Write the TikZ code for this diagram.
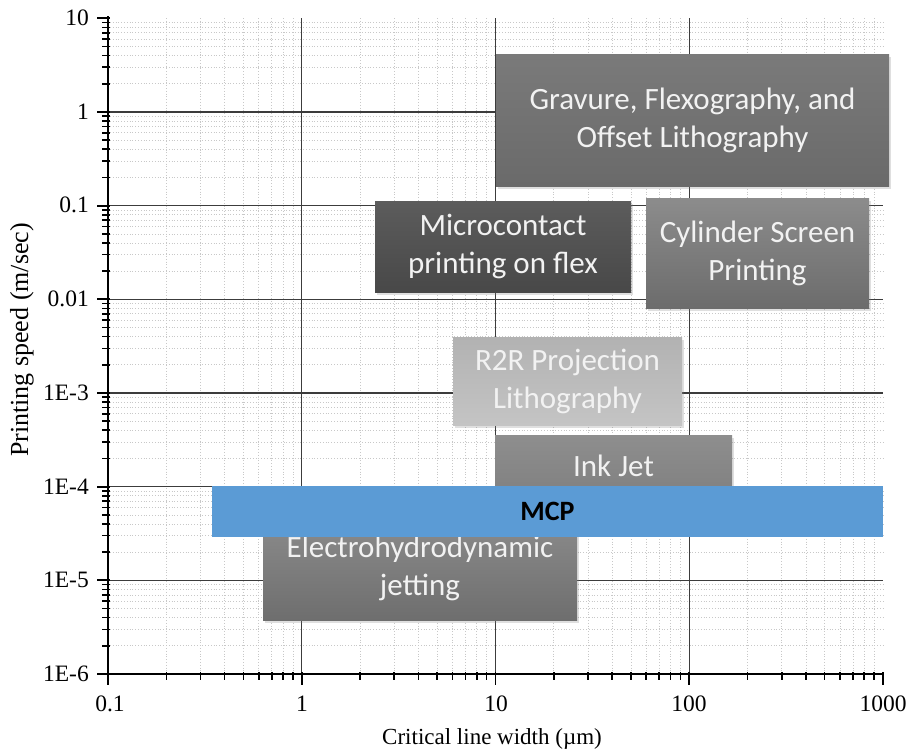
\documentclass[tikz,border=0pt]{standalone}
\usepackage{fontspec}
\setmainfont{Liberation Serif}
\newfontfamily\boxfont{Carlito}
\usetikzlibrary{shadows}
\definecolor{mcpblue}{RGB}{91,155,213}
\definecolor{majgrid}{RGB}{60,60,60}
\definecolor{mingrid}{RGB}{200,200,200}
\definecolor{boxtext}{RGB}{242,242,242}
\begin{document}
\begin{tikzpicture}[x=1pt,y=-1pt,
  minorgrid/.style={draw=mingrid,line width=0.7pt,dash pattern=on 1pt off 1.8pt},
  majorgrid/.style={draw=majgrid,line width=1.4pt},
  axisline/.style={draw=black,line width=2pt},
  ticklbl/.style={font=\fontsize{23.5}{28}\selectfont,inner sep=0pt},
  axtitle/.style={font=\fontsize{23}{28}\selectfont,inner sep=0pt},
  procbox/.style={rectangle,draw=none,text=boxtext,align=center,inner sep=0pt,
    font=\boxfont\fontsize{31}{38}\selectfont,
    drop shadow={shadow xshift=2pt,shadow yshift=-2.5pt,opacity=0.25}},
  mcpbar/.style={rectangle,draw=none,fill=mcpblue,inner sep=0pt,
    font=\boxfont\bfseries\fontsize{28}{34}\selectfont,text=black}]
\useasboundingbox (0,0) rectangle (909,753);
\fill[white] (0,0) rectangle (909,753);
% minor grid, vertical
\foreach \d in {0,1,2,3}{
  \foreach \m in {2,...,9}{
    \pgfmathsetmacro\xx{108+193.75*(\d+ln(\m)/ln(10))}
    \draw[minorgrid] (\xx,18) -- (\xx,672);
  }}
% minor grid, horizontal
\foreach \d in {0,...,6}{
  \foreach \m in {2,...,9}{
    \pgfmathsetmacro\yy{674-93.67*(\d+ln(\m)/ln(10))}
    \draw[minorgrid] (110,\yy) -- (883,\yy);
  }}
% major grid
\foreach \k in {1,...,6}{
  \pgfmathsetmacro\yy{674-93.67*\k}
  \draw[majorgrid] (108,\yy) -- (883,\yy);
}
\foreach \k in {1,2,3}{
  \pgfmathsetmacro\xx{108+193.75*\k}
  \draw[majorgrid] (\xx,18) -- (\xx,674);
}
% process boxes
\node[procbox,top color={rgb,255:red,122;green,122;blue,122},bottom color={rgb,255:red,106;green,106;blue,106},
  minimum width=393pt,minimum height=132pt] (grav) at (692.5,120) {Gravure, Flexography, and\\Offset Lithography};
\node[procbox,top color={rgb,255:red,92;green,92;blue,92},bottom color={rgb,255:red,72;green,72;blue,72},
  minimum width=256pt,minimum height=91pt] (micro) at (503,246.5) {Microcontact\\printing on flex};
\node[procbox,top color={rgb,255:red,140;green,140;blue,140},bottom color={rgb,255:red,108;green,108;blue,108},
  minimum width=223pt,minimum height=110pt] (cyl) at (757.5,253) {Cylinder Screen\\Printing};
\node[procbox,top color={rgb,255:red,178;green,178;blue,178},bottom color={rgb,255:red,196;green,196;blue,196},
  minimum width=229pt,minimum height=88pt] (r2r) at (567.5,381) {R2R Projection\\Lithography};
\node[procbox,top color={rgb,255:red,142;green,142;blue,142},bottom color={rgb,255:red,128;green,128;blue,128},
  minimum width=237pt,minimum height=62pt] (inkjet) at (613.5,466) {Ink Jet};
\node[procbox,top color={rgb,255:red,140;green,140;blue,140},bottom color={rgb,255:red,110;green,110;blue,110},
  minimum width=314pt,minimum height=104pt] (ehd) at (420,568) {Electrohydrodynamic\\jetting};
% MCP bar
\node[mcpbar,minimum width=671pt,minimum height=51pt] (mcp) at (547.5,511.5) {MCP};
% axes
\draw[axisline] (108,16) -- (108,674) -- (883,674);
% y ticks
\foreach \d in {0,...,6}{
  \foreach \m in {2,...,9}{
    \pgfmathsetmacro\yy{674-93.67*(\d+ln(\m)/ln(10))}
    \draw[line width=1.6pt] (102,\yy) -- (110,\yy);
  }}
\foreach \k in {0,...,7}{
  \pgfmathsetmacro\yy{674-93.67*\k}
  \draw[line width=1.8pt] (97,\yy) -- (110,\yy);
}
% x ticks
\foreach \d in {0,1,2,3}{
  \foreach \m in {2,...,9}{
    \pgfmathsetmacro\xx{108+193.75*(\d+ln(\m)/ln(10))}
    \draw[line width=1.6pt] (\xx,672) -- (\xx,680);
  }}
\foreach \k in {0,...,4}{
  \pgfmathsetmacro\xx{108+193.75*\k}
  \draw[line width=1.8pt] (\xx,672) -- (\xx,685);
}
% y tick labels
\node[ticklbl,anchor=east] (y10) at (89,18) {10};
\node[ticklbl,anchor=east] (y1) at (89,111.7) {1};
\node[ticklbl,anchor=east] (y01) at (89,205.3) {0.1};
\node[ticklbl,anchor=east] (y001) at (89,299) {0.01};
\node[ticklbl,anchor=east] (y3) at (89,392.7) {1E-3};
\node[ticklbl,anchor=east] (y4) at (89,486.3) {1E-4};
\node[ticklbl,anchor=east] (y5) at (89,580) {1E-5};
\node[ticklbl,anchor=east] (y6) at (89,673.7) {1E-6};
% x tick labels
\node[ticklbl,anchor=north] (x01) at (110,696) {0.1};
\node[ticklbl,anchor=north] (x1) at (302,696) {1};
\node[ticklbl,anchor=north] (x10) at (496,696) {10};
\node[ticklbl,anchor=north] (x100) at (689,696) {100};
\node[ticklbl,anchor=north] (x1000) at (883,696) {1000};
% axis titles
\node[axtitle,rotate=90,font=\fontsize{26}{30}\selectfont] (ytitle) at (22,340) {Printing speed (m/sec)};
\node[axtitle] (xtitle) at (492,739) {Critical line width (µm)};
\end{tikzpicture}
\end{document}
